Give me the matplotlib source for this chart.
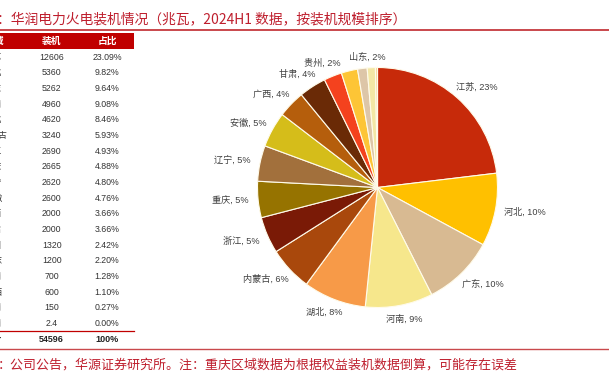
import numpy as np
import matplotlib
matplotlib.use('Agg')
import matplotlib.pyplot as plt
from matplotlib.patches import Rectangle
from matplotlib.lines import Line2D

# ---------------- data ----------------
regions = ['江苏', '河北', '广东', '河南', '湖北', '内蒙古', '浙江', '重庆', '辽宁',
           '安徽', '广西', '甘肃', '贵州', '山东', '湖南', '山西', '云南', '海南']
capacity = [12606, 5360, 5262, 4960, 4620, 3240, 2690, 2665, 2620,
            2600, 2000, 2000, 1320, 1200, 700, 600, 150, 2.4]
table_total = 54596
n_labelled = 14
slice_colors = ['#C72A0A', '#FFC000', '#D8BA92', '#F6E78C', '#F79A48', '#A9480C',
                '#7A1A06', '#967300', '#A2703C', '#D5BD1A', '#B55E0C', '#6A2A06',
                '#F4421E', '#FDC536', '#DDC6A8', '#F3E7A5', '#F5D28A', '#E8B060']
header = ['区域', '装机', '占比']
total_label = '合计'
title = '：华润电力火电装机情况（兆瓦，2024H1 数据，按装机规模排序）'
footer = '：公司公告，华源证券研究所。注：重庆区域数据为根据权益装机数据倒算，可能存在误差'

# ---------------- layout helpers ----------------
W, H = 609, 373
fig = plt.figure(figsize=(W / 100, H / 100), dpi=100)
fig.patch.set_facecolor('white')


def fx(px):
    return px / W


def fy(py):
    return 1 - py / H


CJK = ['Noto Sans CJK SC', 'DejaVu Sans']
MIX = ['Liberation Sans', 'Noto Sans CJK SC']
RED = '#BE1E2D'
LINE_RED = '#C9484C'

total = sum(capacity)

# title + rule
fig.text(fx(-3), fy(18.8), title, ha='left', va='center', fontsize=9.95,
         color=RED, family=CJK)
fig.add_artist(Line2D([0, 1], [fy(29.8), fy(29.8)], transform=fig.transFigure,
                      color=LINE_RED, lw=1.4))

# footer + rule
fig.add_artist(Line2D([0, 1], [fy(348.8), fy(348.8)], transform=fig.transFigure,
                      color=LINE_RED, lw=1.0))
fig.text(fx(-2.5), fy(365.5), footer, ha='left', va='center', fontsize=9.35,
         color=RED, family=CJK)

# ---------------- table ----------------
col_name_x, col_val_x, col_pct_x = -6.4, 51.7, 107
fig.add_artist(Rectangle((0, fy(49)), fx(134), (49 - 33.3) / H,
                         transform=fig.transFigure, facecolor='#C00000',
                         edgecolor='none'))
for x, h in zip([col_name_x, col_val_x, col_pct_x], header):
    fig.text(fx(x), fy(41.2), h, ha='center', va='center', fontsize=7,
             color='white', fontweight='bold', family=CJK)

y0, step = 57.3, 15.65
for i, (name, v) in enumerate(zip(regions, capacity)):
    y = y0 + i * step
    vs = f'{v:g}' if v < 10 else f'{v:.0f}'
    fig.text(fx(col_name_x), fy(y), name, ha='center', va='center',
             fontsize=6.2, color='#333333', family=CJK)
    fig.text(fx(col_val_x), fy(y), vs, ha='center', va='center',
             fontsize=6.3, color='#333333', family=MIX)
    fig.text(fx(col_pct_x), fy(y), f'{v / table_total * 100:.2f}%', ha='center',
             va='center', fontsize=6.3, color='#333333', family=MIX)

fig.add_artist(Line2D([0, fx(134)], [fy(331.3), fy(331.3)],
                      transform=fig.transFigure, color='#C00000', lw=0.9))
yt = 339.2
fig.text(fx(col_name_x), fy(yt), total_label, ha='center', va='center',
         fontsize=6.2, color='#222222', fontweight='bold', family=CJK)
fig.text(fx(col_val_x), fy(yt), f'{table_total}', ha='center', va='center',
         fontsize=6.5, color='#222222', fontweight='bold', family=MIX)
fig.text(fx(col_pct_x), fy(yt), '100%', ha='center', va='center',
         fontsize=6.5, color='#222222', fontweight='bold', family=MIX)

# ---------------- pie ----------------
cx, cy, R = 377.5, 187.5, 120
half = 1.25 * R
ax = fig.add_axes([fx(cx - half), fy(cy + half), 2 * half / W, 2 * half / H])
wedges, _ = ax.pie(capacity, colors=slice_colors, startangle=90,
                   counterclock=False, radius=1,
                   wedgeprops=dict(edgecolor='#FFFBEA', linewidth=0.8))
ax.set_xlim(-1.25, 1.25)
ax.set_ylim(-1.25, 1.25)
ax.axis('off')

renderer = fig.canvas.get_renderer()
anchor = 1.08           # label box touches this radius (in pie radii)
nudge_px = {13: (24, 0)}  # keep 山东 clear of 贵州
for i in range(n_labelled):
    w = wedges[i]
    ang = np.deg2rad((w.theta1 + w.theta2) / 2)
    c, s = np.cos(ang), np.sin(ang)
    pct = capacity[i] / total * 100
    t = ax.text(0, 0, f'{regions[i]}, {pct:.0f}%', ha='center', va='center',
                fontsize=6.6, color='#404040', family=MIX)
    bb = t.get_window_extent(renderer)
    wpx, hpx = bb.width, bb.height
    dx, dy = nudge_px.get(i, (0, 0))
    x = anchor * c + (c * wpx / 2 + dx) / R
    y = anchor * s + (s * hpx / 2 - dy) / R
    t.set_position((x, y))

fig.savefig('out.png', dpi=100)
